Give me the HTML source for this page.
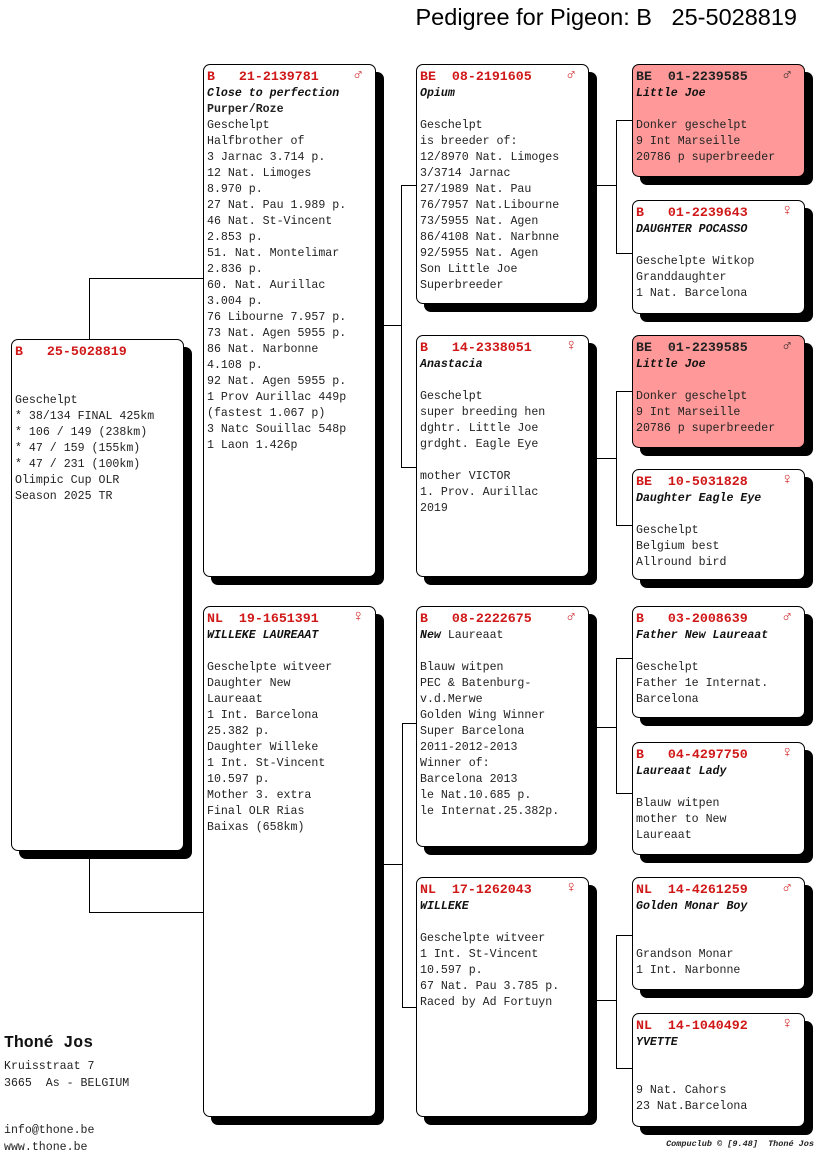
<!DOCTYPE html>
<html><head><meta charset="utf-8"><style>
body{margin:0;width:816px;height:1172px;background:#fff;position:relative;overflow:hidden;font-family:"Liberation Mono",monospace;}
.b{position:absolute;border:1px solid #000;border-radius:7px;background:#fff;box-shadow:8px 8px 0 #000;box-sizing:border-box;padding:4px 0 0 3px;font-size:11.6px;line-height:16px;color:#222;white-space:pre;}
.p{background:#f99;}
.h{color:#d01818;font-weight:bold;font-size:13.3px;}
.n{font-style:italic;font-weight:bold;color:#111;}
.s{position:absolute;right:12px;top:2px;color:#d01818;font-weight:bold;font-size:16px;}
.l{position:absolute;background:#000;}
.t{position:absolute;}
</style></head><body>
<div class="t" style="right:19px;top:4px;font-family:'Liberation Sans',sans-serif;font-size:23.5px;color:#000;white-space:pre">Pedigree for Pigeon: B   25-5028819</div>

<div class="l" style="left:89px;top:278px;width:1px;height:61px"></div>
<div class="l" style="left:89px;top:278px;width:114px;height:1px"></div>
<div class="l" style="left:89px;top:851px;width:1px;height:61px"></div>
<div class="l" style="left:89px;top:912px;width:114px;height:1px"></div>

<div class="l" style="left:383px;top:325px;width:19px;height:1px"></div>
<div class="l" style="left:401px;top:185px;width:1px;height:283px"></div>
<div class="l" style="left:401px;top:185px;width:15px;height:1px"></div>
<div class="l" style="left:401px;top:467px;width:15px;height:1px"></div>

<div class="l" style="left:383px;top:864px;width:20px;height:1px"></div>
<div class="l" style="left:402px;top:723px;width:1px;height:285px"></div>
<div class="l" style="left:402px;top:723px;width:14px;height:1px"></div>
<div class="l" style="left:402px;top:1007px;width:14px;height:1px"></div>

<div class="l" style="left:597px;top:185px;width:19px;height:1px"></div>
<div class="l" style="left:616px;top:120px;width:1px;height:133px"></div>
<div class="l" style="left:616px;top:120px;width:16px;height:1px"></div>
<div class="l" style="left:616px;top:253px;width:16px;height:1px"></div>

<div class="l" style="left:597px;top:458px;width:19px;height:1px"></div>
<div class="l" style="left:616px;top:391px;width:1px;height:134px"></div>
<div class="l" style="left:616px;top:391px;width:16px;height:1px"></div>
<div class="l" style="left:616px;top:525px;width:16px;height:1px"></div>

<div class="l" style="left:597px;top:727px;width:19px;height:1px"></div>
<div class="l" style="left:616px;top:658px;width:1px;height:135px"></div>
<div class="l" style="left:616px;top:658px;width:16px;height:1px"></div>
<div class="l" style="left:616px;top:793px;width:16px;height:1px"></div>

<div class="l" style="left:597px;top:1000px;width:19px;height:1px"></div>
<div class="l" style="left:616px;top:935px;width:1px;height:133px"></div>
<div class="l" style="left:616px;top:935px;width:16px;height:1px"></div>
<div class="l" style="left:616px;top:1068px;width:16px;height:1px"></div>

<div class="b" style="left:11px;top:339px;width:173px;height:512px"><span class="h">B   25-5028819</span>


Geschelpt
* 38/134 FINAL 425km
* 106 / 149 (238km)
* 47 / 159 (155km)
* 47 / 231 (100km)
Olimpic Cup OLR
Season 2025 TR</div>

<div class="b" style="left:203px;top:64px;width:173px;height:513px"><span class="h">B   21-2139781</span><span class="s">♂</span>
<span class="n">Close to perfection</span>
<b>Purper/Roze</b>
Geschelpt
Halfbrother of
3 Jarnac 3.714 p.
12 Nat. Limoges
8.970 p.
27 Nat. Pau 1.989 p.
46 Nat. St-Vincent
2.853 p.
51. Nat. Montelimar
2.836 p.
60. Nat. Aurillac
3.004 p.
76 Libourne 7.957 p.
73 Nat. Agen 5955 p.
86 Nat. Narbonne
4.108 p.
92 Nat. Agen 5955 p.
1 Prov Aurillac 449p
(fastest 1.067 p)
3 Natc Souillac 548p
1 Laon 1.426p</div>
<div class="b" style="left:203px;top:606px;width:173px;height:511px"><span class="h">NL  19-1651391</span><span class="s">♀</span>
<span class="n">WILLEKE LAUREAAT</span>

Geschelpte witveer
Daughter New
Laureaat
1 Int. Barcelona
25.382 p.
Daughter Willeke
1 Int. St-Vincent
10.597 p.
Mother 3. extra
Final OLR Rias
Baixas (658km)</div>

<div class="b" style="left:416px;top:64px;width:173px;height:240px"><span class="h">BE  08-2191605</span><span class="s">♂</span>
<span class="n">Opium</span>

Geschelpt
is breeder of:
12/8970 Nat. Limoges
3/3714 Jarnac
27/1989 Nat. Pau
76/7957 Nat.Libourne
73/5955 Nat. Agen
86/4108 Nat. Narbnne
92/5955 Nat. Agen
Son Little Joe
Superbreeder</div>
<div class="b" style="left:416px;top:335px;width:173px;height:242px"><span class="h">B   14-2338051</span><span class="s">♀</span>
<span class="n">Anastacia</span>

Geschelpt
super breeding hen
dghtr. Little Joe
grdght. Eagle Eye

mother VICTOR
1. Prov. Aurillac
2019</div>
<div class="b" style="left:416px;top:606px;width:173px;height:241px"><span class="h">B   08-2222675</span><span class="s">♂</span>
<span class="n">New</span> Laureaat

Blauw witpen
PEC &amp; Batenburg-
v.d.Merwe
Golden Wing Winner
Super Barcelona
2011-2012-2013
Winner of:
Barcelona 2013
le Nat.10.685 p.
le Internat.25.382p.</div>
<div class="b" style="left:416px;top:877px;width:173px;height:240px"><span class="h">NL  17-1262043</span><span class="s">♀</span>
<span class="n">WILLEKE</span>

Geschelpte witveer
1 Int. St-Vincent
10.597 p.
67 Nat. Pau 3.785 p.
Raced by Ad Fortuyn</div>

<div class="b p" style="left:632px;top:64px;width:173px;height:113px"><span class="h" style="color:#222">BE  01-2239585</span><span class="s" style="color:#222">♂</span>
<span class="n">Little Joe</span>

Donker geschelpt
9 Int Marseille
20786 p superbreeder</div>
<div class="b" style="left:632px;top:200px;width:173px;height:114px"><span class="h">B   01-2239643</span><span class="s">♀</span>
<span class="n">DAUGHTER POCASSO</span>

Geschelpte Witkop
Granddaughter
1 Nat. Barcelona</div>
<div class="b p" style="left:632px;top:335px;width:173px;height:113px"><span class="h" style="color:#222">BE  01-2239585</span><span class="s" style="color:#222">♂</span>
<span class="n">Little Joe</span>

Donker geschelpt
9 Int Marseille
20786 p superbreeder</div>
<div class="b" style="left:632px;top:469px;width:173px;height:111px"><span class="h">BE  10-5031828</span><span class="s">♀</span>
<span class="n">Daughter Eagle Eye</span>

Geschelpt
Belgium best
Allround bird</div>
<div class="b" style="left:632px;top:606px;width:173px;height:112px"><span class="h">B   03-2008639</span><span class="s">♂</span>
<span class="n">Father New Laureaat</span>

Geschelpt
Father 1e Internat.
Barcelona</div>
<div class="b" style="left:632px;top:742px;width:173px;height:113px"><span class="h">B   04-4297750</span><span class="s">♀</span>
<span class="n">Laureaat Lady</span>

Blauw witpen
mother to New
Laureaat</div>
<div class="b" style="left:632px;top:877px;width:173px;height:113px"><span class="h">NL  14-4261259</span><span class="s">♂</span>
<span class="n">Golden Monar Boy</span>


Grandson Monar
1 Int. Narbonne</div>
<div class="b" style="left:632px;top:1013px;width:173px;height:114px"><span class="h">NL  14-1040492</span><span class="s">♀</span>
<span class="n">YVETTE</span>


9 Nat. Cahors
23 Nat.Barcelona</div>

<div class="t" style="left:4px;top:1033px;font-size:16.5px;font-weight:bold;color:#111">Thoné Jos</div>
<div class="t" style="left:4px;top:1058px;font-size:11.6px;line-height:17px;color:#222;white-space:pre">Kruisstraat 7
3665  As - BELGIUM</div>
<div class="t" style="left:4px;top:1122px;font-size:11.6px;line-height:17px;color:#222;white-space:pre">info@thone.be
www.thone.be</div>
<div class="t" style="right:2px;top:1139px;font-size:8.5px;font-style:italic;font-weight:bold;color:#222;white-space:pre">Compuclub © [9.48]  Thoné Jos</div>
</body></html>
